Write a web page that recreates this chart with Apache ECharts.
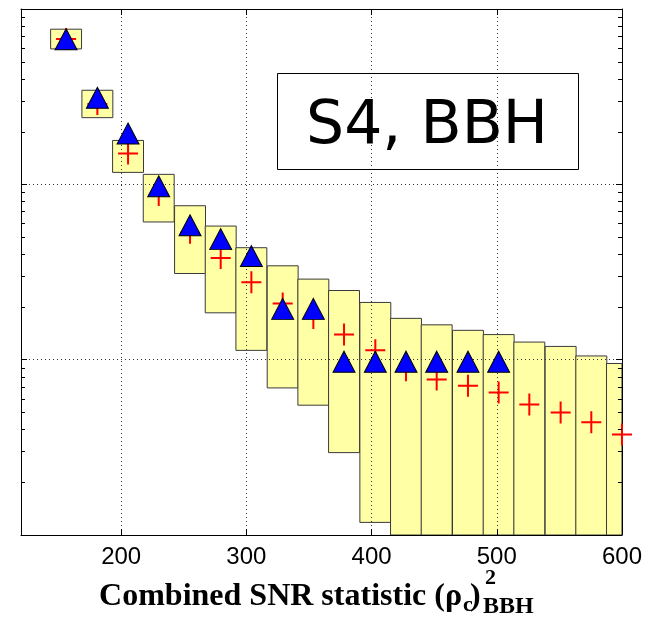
<!DOCTYPE html>
<html>
<head>
<meta charset="utf-8">
<script src="https://cdn.jsdelivr.net/npm/echarts@6/dist/echarts.min.js"></script>
<style>
  html, body { margin: 0; background: #fff; }
  #chart { width: 645px; height: 628px; }
</style>
</head>
<body>
<div id="chart"></div>
<script>
// bin centres on the combined SNR axis
const binCenters = [156, 181, 205.5, 230, 255, 279.5, 304, 329, 353.5, 378, 403, 427.5, 452, 477, 501.5, 526, 551, 575.5, 600]
const binWidth = 24.7
// observed counts (triangles)
const observed = [69, 32, 20, 10, 6, 5, 4, 2, 2, 1, 1, 1, 1, 1, 1, null, null, null, null]
// expected background (crosses)
const expected = [67.5, 28.7, 15.0, 8.7, 5.3, 3.8, 2.76, 2.09, 1.73, 1.39, 1.13, 0.87, 0.77, 0.71, 0.65, 0.555, 0.5, 0.44, 0.374]
// background band (yellow boxes)
const bandHigh = [76.7, 34.4, 17.8, 11.4, 7.55, 5.78, 4.35, 3.43, 2.88, 2.48, 2.12, 1.72, 1.58, 1.47, 1.39, 1.26, 1.19, 1.05, 0.951]
const bandLow = [59.2, 24.0, 11.7, 6.1, 3.1, 1.85, 1.13, 0.69, 0.55, 0.295, 0.118, 0.01, 0.01, 0.01, 0.01, 0.01, 0.01, 0.01, 0.01]
// log minor ticks
const minorTicks = [0.2, 0.3, 0.4, 0.5, 0.6, 0.7, 0.8, 0.9, 2, 3, 4, 5, 6, 7, 8, 9, 20, 30, 40, 50, 60, 70, 80, 90]
const xMin = 120
const xMax = 600
const yMin = 0.1
const yMax = 100

const chart = echarts.init(document.getElementById('chart'))

const plusPath = 'path://M0,10L20,10L20,12L0,12Z M9,0L11,0L11,22L9,22Z'
const gridLine = { show: true, lineStyle: { color: '#333', type: [1, 3], width: 1 } }
const edgeLine = { show: true, onZero: false, lineStyle: { color: '#000', width: 1 } }
const serif = '"Liberation Serif"'

function label (text, x, y, size, align) {
  return {
    type: 'text',
    x: x,
    y: y,
    style: {
      text: text,
      font: 'bold ' + size + 'px ' + serif,
      fill: '#000',
      align: align,
      verticalAlign: 'middle',
      textAlign: align,
      textVerticalAlign: 'middle'
    }
  }
}

const option = {
  animation: false,
  backgroundColor: '#fff',
  grid: { left: 21, right: 22, top: 9, bottom: 93 },
  xAxis: [
    {
      type: 'value',
      min: xMin,
      max: xMax,
      splitNumber: 5,
      z: 2,
      axisLine: edgeLine,
      axisTick: { show: true, inside: true, length: 6, lineStyle: { color: '#000' } },
      splitLine: gridLine,
      axisLabel: {
        margin: 10,
        color: '#000',
        fontFamily: 'Liberation Sans',
        fontSize: 24,
        formatter: v => (v % 100 === 0 ? String(v) : '')
      }
    },
    {
      type: 'value',
      position: 'top',
      min: xMin,
      max: xMax,
      splitNumber: 5,
      z: 2,
      axisLine: edgeLine,
      axisTick: { show: true, inside: true, length: 6, lineStyle: { color: '#000' } },
      splitLine: { show: false },
      axisLabel: { show: false }
    }
  ],
  yAxis: [
    {
      type: 'log',
      logBase: 10,
      min: yMin,
      max: yMax,
      z: 2,
      axisLine: edgeLine,
      axisTick: { show: true, inside: true, length: 6, lineStyle: { color: '#000' } },
      splitLine: gridLine,
      axisLabel: { show: false }
    },
    {
      type: 'log',
      logBase: 10,
      position: 'right',
      min: yMin,
      max: yMax,
      z: 2,
      axisLine: edgeLine,
      axisTick: { show: true, inside: true, length: 6, lineStyle: { color: '#000' } },
      splitLine: { show: false },
      axisLabel: { show: false }
    }
  ],
  series: [
    {
      type: 'custom',
      name: 'band',
      z: 1,
      silent: true,
      encode: { x: 0, y: [1, 2] },
      data: binCenters.map((c, i) => [c, bandLow[i], bandHigh[i]]),
      renderItem (params, api) {
        const c = api.value(0)
        const p1 = api.coord([c - binWidth / 2, api.value(2)])
        const p2 = api.coord([c + binWidth / 2, api.value(1)])
        const cs = params.coordSys
        const shape = echarts.graphic.clipRectByRect(
          { x: p1[0], y: p1[1], width: p2[0] - p1[0], height: p2[1] - p1[1] },
          { x: cs.x, y: cs.y, width: cs.width, height: cs.height }
        )
        if (!shape) return null
        return {
          type: 'rect',
          shape: shape,
          style: { fill: '#ffffa6', stroke: '#3a3a3a', lineWidth: 1 }
        }
      }
    },
    {
      type: 'custom',
      name: 'minor',
      z: 5,
      silent: true,
      encode: { x: 0, y: 1 },
      data: minorTicks.map(v => [200, v]),
      renderItem (params, api) {
        const y = Math.round(api.coord([200, api.value(1)])[1]) + 0.5
        const cs = params.coordSys
        const st = { stroke: '#000', lineWidth: 1 }
        return {
          type: 'group',
          children: [
            { type: 'line', shape: { x1: cs.x, y1: y, x2: cs.x + 4, y2: y }, style: st },
            { type: 'line', shape: { x1: cs.x + cs.width - 4, y1: y, x2: cs.x + cs.width, y2: y }, style: st }
          ]
        }
      }
    },
    {
      type: 'scatter',
      name: 'expected',
      z: 3,
      clip: false,
      symbol: plusPath,
      symbolSize: [20, 22],
      itemStyle: { color: '#ff0000', opacity: 1 },
      data: binCenters.map((c, i) => [c, expected[i]])
    },
    {
      type: 'scatter',
      name: 'observed',
      z: 4,
      clip: false,
      symbol: 'triangle',
      symbolSize: [22, 21],
      symbolOffset: [0, 2],
      itemStyle: { color: '#0000ff', borderColor: '#000', borderWidth: 1, opacity: 1 },
      data: binCenters.map((c, i) => [c, observed[i]]).filter(d => d[1] !== null)
    }
  ],
  graphic: [
    {
      type: 'rect',
      z: 10,
      shape: { x: 277.5, y: 73.5, width: 301, height: 96 },
      style: { fill: 'none', stroke: '#000', lineWidth: 1 }
    },
    {
      type: 'text',
      z: 11,
      x: 427,
      y: 127,
      style: {
        text: 'S4, BBH',
        font: '60px "DejaVu Sans"',
        fill: '#000',
        align: 'center',
        verticalAlign: 'middle',
        textAlign: 'center',
        textVerticalAlign: 'middle'
      }
    },
    label('Combined SNR statistic (ρ', 462, 597, 32, 'right'),
    label('c', 463, 605, 22, 'left'),
    label(')', 470, 597, 32, 'left'),
    label('2', 485, 578, 22, 'left'),
    label('BBH', 483, 607, 24, 'left')
  ]
}

chart.setOption(option)
</script>
</body>
</html>
